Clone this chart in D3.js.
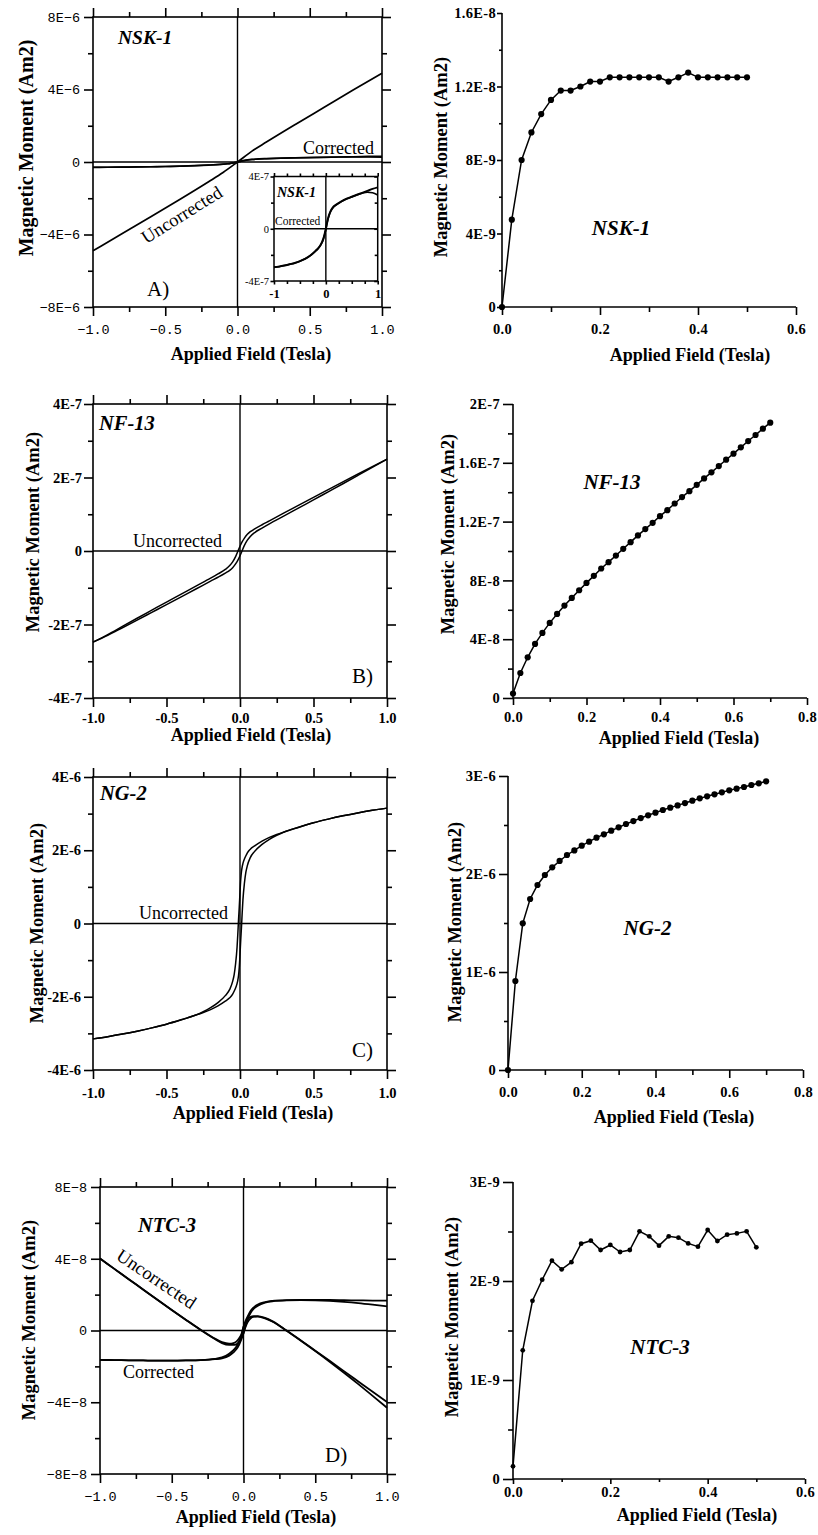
<!DOCTYPE html>
<html><head><meta charset="utf-8">
<script src="https://cdn.jsdelivr.net/npm/d3@7"></script>
<style>body{margin:0;background:#fff} svg{display:block}</style>
</head><body>
<svg id="fig" width="818" height="1535"></svg>
<script>
// ================= DATA =================
// Panel A (NSK-1) hysteresis loop, corrected (units 1E-7 Am2)
const nskX = [-1,-0.9,-0.8,-0.7,-0.6,-0.5,-0.4,-0.3,-0.2,-0.15,-0.1,-0.07,-0.05,-0.03,-0.015,0,0.015,0.03,0.05,0.07,0.1,0.15,0.2,0.3,0.4,0.5,0.6,0.7,0.8,0.9,1];
const nskCorrUp = [-2.95,-2.9,-2.82,-2.72,-2.62,-2.48,-2.3,-2.05,-1.7,-1.5,-1.22,-0.98,-0.78,-0.5,-0.25,0,0.3,0.59,0.9,1.15,1.42,1.7,1.85,2.1,2.3,2.45,2.6,2.75,2.9,3.05,3.17];
const nskCorrLo = [-2.95,-2.9,-2.82,-2.72,-2.62,-2.48,-2.3,-2.05,-1.72,-1.53,-1.26,-1.03,-0.84,-0.56,-0.32,-0.06,0.24,0.53,0.85,1.1,1.38,1.67,1.83,2.08,2.28,2.43,2.58,2.72,2.8,2.75,2.58];
// Panel A uncorrected (units 1E-7 Am2)
const nskUncX = [-1,-0.8,-0.6,-0.4,-0.2,-0.1,0,0.1,0.2,0.4,0.6,0.8,1];
const nskUnc = [-49,-39.6,-30.2,-20.7,-10.9,-5.8,0,6.0,11.0,20.7,30.2,39.7,49];
// Panel B (NF-13) uncorrected loop (units 1E-7 Am2)
const nfX = [-1,-0.9,-0.8,-0.7,-0.6,-0.5,-0.4,-0.3,-0.2,-0.15,-0.1,-0.07,-0.05,-0.03,-0.015,0,0.015,0.03,0.05,0.07,0.1,0.15,0.2,0.3,0.4,0.5,0.6,0.7,0.8,0.9,1];
const nfUp = [-2.48,-2.275,-2.052,-1.83,-1.61,-1.39,-1.173,-0.955,-0.74,-0.625,-0.502,-0.395,-0.294,-0.152,-0.014,0.13,0.254,0.352,0.454,0.525,0.602,0.715,0.82,1.035,1.247,1.46,1.67,1.88,2.088,2.295,2.5];
const nfLo = [-2.48,-2.295,-2.088,-1.88,-1.67,-1.46,-1.247,-1.035,-0.82,-0.715,-0.602,-0.525,-0.454,-0.352,-0.254,-0.13,0.014,0.152,0.294,0.395,0.502,0.625,0.74,0.955,1.173,1.39,1.61,1.83,2.052,2.275,2.5];
// Panel C (NG-2) uncorrected loop (units 1E-6 Am2)
const ngX = [-1,-0.9,-0.8,-0.7,-0.6,-0.5,-0.4,-0.3,-0.25,-0.2,-0.15,-0.1,-0.07,-0.05,-0.04,-0.03,-0.02,-0.015,-0.01,-0.005,0,0.005,0.01,0.015,0.02,0.03,0.04,0.05,0.07,0.1,0.15,0.2,0.25,0.3,0.4,0.5,0.6,0.7,0.8,0.9,1];
const ngDesc = [-3.15,-3.09,-3.02,-2.94,-2.85,-2.75,-2.63,-2.5,-2.41,-2.3,-2.16,-1.97,-1.8,-1.58,-1.4,-1.1,-0.65,-0.3,0.1,0.45,0.85,1.2,1.42,1.55,1.64,1.76,1.85,1.93,2.03,2.12,2.25,2.35,2.43,2.5,2.63,2.75,2.85,2.94,3.02,3.09,3.15];
const ngAsc = [-3.15,-3.09,-3.02,-2.94,-2.85,-2.75,-2.63,-2.5,-2.43,-2.35,-2.25,-2.12,-2.03,-1.93,-1.85,-1.76,-1.64,-1.55,-1.42,-1.2,-0.85,-0.45,-0.1,0.3,0.65,1.1,1.4,1.58,1.8,1.97,2.16,2.3,2.41,2.5,2.63,2.75,2.85,2.94,3.02,3.09,3.15];
// Panel D (NTC-3) loops (units 1E-8 Am2)
const ntcX = [-1,-0.9,-0.8,-0.7,-0.6,-0.5,-0.4,-0.3,-0.2,-0.15,-0.1,-0.07,-0.05,-0.03,-0.015,0,0.015,0.03,0.05,0.07,0.1,0.15,0.2,0.3,0.4,0.5,0.6,0.7,0.8,0.9,1];
const ntcCorrUp = [-1.64,-1.65,-1.66,-1.67,-1.68,-1.68,-1.67,-1.65,-1.58,-1.5,-1.3,-1.1,-0.9,-0.6,-0.3,0.2,0.55,0.8,1.1,1.28,1.45,1.58,1.65,1.69,1.7,1.7,1.7,1.69,1.68,1.67,1.67];
const ntcCorrLo = [-1.64,-1.65,-1.66,-1.67,-1.68,-1.68,-1.67,-1.65,-1.6,-1.55,-1.4,-1.22,-1.05,-0.78,-0.5,-0.15,0.3,0.65,0.98,1.2,1.38,1.55,1.63,1.68,1.69,1.68,1.65,1.6,1.53,1.44,1.34];
const ntcUncUp = [4.01,3.435,2.86,2.285,1.71,1.145,0.59,0.045,-0.45,-0.65,-0.735,-0.705,-0.62,-0.43,-0.215,0.2,0.465,0.63,0.76,0.8,0.8,0.7,0.52,-0.005,-0.56,-1.125,-1.69,-2.265,-2.84,-3.415,-3.98];
const ntcUncLo = [4.01,3.435,2.86,2.285,1.71,1.145,0.59,0.045,-0.47,-0.7,-0.8,-0.8,-0.77,-0.61,-0.415,-0.15,0.215,0.48,0.68,0.76,0.77,0.68,0.5,-0.015,-0.57,-1.145,-1.74,-2.355,-2.99,-3.645,-4.31];

// Right-hand panels: IRM acquisition points
const irmX50 = [0,0.02,0.04,0.06,0.08,0.1,0.12,0.14,0.16,0.18,0.2,0.22,0.24,0.26,0.28,0.3,0.32,0.34,0.36,0.38,0.4,0.42,0.44,0.46,0.48,0.5];
const irmX70 = [0,0.02,0.04,0.06,0.08,0.1,0.12,0.14,0.16,0.18,0.2,0.22,0.24,0.26,0.28,0.3,0.32,0.34,0.36,0.38,0.4,0.42,0.44,0.46,0.48,0.5,0.52,0.54,0.56,0.58,0.6,0.62,0.64,0.66,0.68,0.7];
const nskIrm = [0,4.75,8.0,9.5,10.5,11.27,11.78,11.78,12.0,12.27,12.27,12.5,12.5,12.5,12.5,12.5,12.5,12.27,12.5,12.76,12.5,12.5,12.5,12.5,12.5,12.5]; // 1E-9
const nfIrm = [0.3,1.70,2.77,3.68,4.43,5.11,5.72,6.29,6.81,7.33,7.83,8.31,8.81,9.24,9.69,10.15,10.6,11.06,11.49,11.92,12.37,12.78,13.23,13.67,14.07,14.5,14.94,15.35,15.78,16.21,16.62,17.05,17.48,17.89,18.32,18.73]; // 1E-8
const ngIrm = [0,0.908,1.497,1.745,1.888,1.99,2.068,2.133,2.194,2.241,2.289,2.33,2.371,2.405,2.442,2.476,2.51,2.54,2.571,2.599,2.626,2.653,2.677,2.70,2.724,2.748,2.772,2.793,2.813,2.833,2.854,2.871,2.888,2.908,2.925,2.946]; // 1E-6
const ntcIrm = [0.128,1.30,1.80,2.013,2.205,2.118,2.19,2.377,2.407,2.313,2.364,2.293,2.313,2.502,2.451,2.357,2.451,2.438,2.38,2.347,2.515,2.404,2.468,2.481,2.502,2.34]; // 1E-9

// Tick values & labels
const loopXMajor = [-1,-0.5,0,0.5,1];
const loopXMinor = [-0.75,-0.25,0.25,0.75];
const loopXLabelsMono = ["\u22121.0","\u22120.5","0.0","0.5","1.0"];
const loopXLabelsBold = ["-1.0","-0.5","0.0","0.5","1.0"];
const aYMajor = [80,40,0,-40,-80], aYMinor = [60,20,-20,-60];
const aYLabels = ["8E\u22126","4E\u22126","0","\u22124E\u22126","\u22128E\u22126"];
const insetYMajor = [4,0,-4], insetYMinor = [2,-2];
const insetYLabels = ["4E-7","0","-4E-7"];
const insetXMajor = [-1,0,1], insetXMinor = [-0.75,-0.5,-0.25,0.25,0.5,0.75];
const insetXLabels = ["-1","0","1"];
const bYMajor = [4,2,0,-2,-4], bYMinor = [3,1,-1,-3];
const bYLabels = ["4E-7","2E-7","0","-2E-7","-4E-7"];
const cYMajor = [4,2,0,-2,-4], cYMinor = [3,1,-1,-3];
const cYLabels = ["4E-6","2E-6","0","-2E-6","-4E-6"];
const dYMajor = [8,4,0,-4,-8], dYMinor = [6,2,-2,-6];
const dYLabels = ["8E\u22128","4E\u22128","0","\u22124E\u22128","\u22128E\u22128"];

const r1YMajor = [0,4,8,12,16], r1YMinor = [2,6,10,14];
const r1YLabels = ["0","4E-9","8E-9","1.2E-8","1.6E-8"];
const r6XMajor = [0,0.2,0.4,0.6], r6XMinor = [0.1,0.3,0.5];
const r6XLabels = ["0.0","0.2","0.4","0.6"];
const r8XMajor = [0,0.2,0.4,0.6,0.8], r8XMinor = [0.1,0.3,0.5,0.7];
const r8XLabels = ["0.0","0.2","0.4","0.6","0.8"];
const r2YMajor = [0,4,8,12,16,20], r2YMinor = [2,6,10,14,18];
const r2YLabels = ["0","4E-8","8E-8","1.2E-7","1.6E-7","2E-7"];
const r3YMajor = [0,1,2,3], r3YMinor = [0.5,1.5,2.5];
const r3YLabels = ["0","1E-6","2E-6","3E-6"];
const r4YMajor = [0,1,2,3], r4YMinor = [0.5,1.5,2.5];
const r4YLabels = ["0","1E-9","2E-9","3E-9"];

// ================= DRAWING =================
const SERIF = "'Liberation Serif','Times New Roman',serif";
const MONO = "'Liberation Mono','DejaVu Sans Mono',monospace";
const svg = d3.select("#fig");

function ticks(g, axisFn, scale, vals, size, pad, labels, tx, ty, font) {
  const ax = axisFn(scale).tickValues(vals).tickSize(size).tickSizeOuter(0).tickPadding(pad)
    .tickFormat((d, i) => labels ? labels[i] : "");
  const a = g.append("g").attr("transform", `translate(${tx},${ty})`).call(ax);
  a.select(".domain").remove();
  a.selectAll("line").attr("stroke", "#000").attr("stroke-width", 1.6);
  if (font) {
    a.attr("font-family", font.family).attr("font-size", font.size).attr("font-weight", font.weight || "normal");
    if (font.ls) a.attr("letter-spacing", font.ls);
  }
  return a;
}

function txt(g, x, y, s, o) {
  o = o || {};
  const t = g.append("text").attr("x", x).attr("y", y).text(s)
    .attr("font-family", o.family || SERIF).attr("font-size", o.size || 18)
    .attr("font-weight", o.weight || "normal").attr("font-style", o.style || "normal")
    .attr("text-anchor", o.anchor || "start").attr("fill", "#000");
  if (o.rotate !== undefined) t.attr("transform", `rotate(${o.rotate},${x},${y})`);
  return t;
}

function loopPanel(c) {
  const g = svg.append("g");
  const x = d3.scaleLinear().domain([-1, 1]).range([c.x0, c.x1]);
  const y = d3.scaleLinear().domain([-c.ymax, c.ymax]).range([c.y1, c.y0]);
  if (c.bg) g.append("rect").attr("x", c.x0).attr("y", c.y0).attr("width", c.x1 - c.x0).attr("height", c.y1 - c.y0).attr("fill", "#fff");
  ticks(g, d3.axisLeft, y, c.yMajor, c.tM, c.yPad, c.yLabels, c.x0, 0, c.yfont);
  ticks(g, d3.axisLeft, y, c.yMinor, c.tm, 0, null, c.x0, 0);
  ticks(g, d3.axisRight, y, c.yMajor, c.rM, 0, null, c.x1, 0);
  ticks(g, d3.axisRight, y, c.yMinor, c.rm, 0, null, c.x1, 0);
  ticks(g, d3.axisTop, x, c.xMajor, c.tM, 0, null, 0, c.y0);
  ticks(g, d3.axisTop, x, c.xMinor, c.tm, 0, null, 0, c.y0);
  ticks(g, d3.axisBottom, x, c.xMajor, c.tM, c.xPad, c.xLabels, 0, c.y1, c.xfont);
  ticks(g, d3.axisBottom, x, c.xMinor, c.tm, 0, null, 0, c.y1);
  g.append("rect").attr("x", c.x0).attr("y", c.y0).attr("width", c.x1 - c.x0).attr("height", c.y1 - c.y0)
    .attr("fill", "none").attr("stroke", "#000").attr("stroke-width", c.frameW || 1.6);
  g.append("line").attr("x1", c.x0).attr("x2", c.x1).attr("y1", y(0)).attr("y2", y(0)).attr("stroke", "#000").attr("stroke-width", 1.4);
  g.append("line").attr("x1", x(0)).attr("x2", x(0)).attr("y1", c.y0).attr("y2", c.y1).attr("stroke", "#000").attr("stroke-width", 1.4);
  const line = d3.line().x(d => x(d[0])).y(d => y(d[1])).curve(d3.curveMonotoneX);
  c.curves.forEach(cv => g.append("path").attr("d", line(d3.zip(cv.x, cv.y)))
    .attr("fill", "none").attr("stroke", "#000").attr("stroke-width", cv.w || 1.6).attr("stroke-linejoin", "round"));
  return { g, x, y };
}

function ptsPanel(c) {
  const g = svg.append("g");
  const x = d3.scaleLinear().domain([0, c.xmax]).range([c.x0, c.x1]);
  const y = d3.scaleLinear().domain([0, c.ymax]).range([c.y1, c.y0]);
  const bold = { family: SERIF, size: 14.5, weight: "bold", ls: 0.3 };
  ticks(g, d3.axisLeft, y, c.yMajor, c.yM, c.yPad, c.yLabels, c.x0, 0, bold);
  ticks(g, d3.axisLeft, y, c.yMinor, c.ym, 0, null, c.x0, 0);
  ticks(g, d3.axisBottom, x, c.xMajor, c.xM, c.xPad, c.xLabels, 0, c.y1, bold);
  ticks(g, d3.axisBottom, x, c.xMinor, c.xm, 0, null, 0, c.y1);
  g.append("line").attr("x1", c.x0).attr("x2", c.x0).attr("y1", c.y0).attr("y2", c.y1).attr("stroke", "#000").attr("stroke-width", 1.6);
  g.append("line").attr("x1", c.x0).attr("x2", c.x1).attr("y1", c.y1).attr("y2", c.y1).attr("stroke", "#000").attr("stroke-width", 1.6);
  const pts = d3.zip(c.xs, c.ys);
  const line = d3.line().x(d => x(d[0])).y(d => y(d[1]));
  g.append("path").attr("d", line(pts)).attr("fill", "none").attr("stroke", "#000").attr("stroke-width", 1.5);
  g.selectAll("circle.p").data(pts).enter().append("circle").attr("class", "p")
    .attr("cx", d => x(d[0])).attr("cy", d => y(d[1])).attr("r", c.r).attr("fill", "#000");
  txt(g, c.lx, c.ly, c.label, { size: 21, weight: "bold", style: "italic", anchor: "middle" });
  txt(g, c.tx, c.ty, "Applied Field (Tesla)", { size: 18, weight: "bold", anchor: "middle" });
  txt(g, c.yx, c.yy, "Magnetic Moment (Am2)", { size: 18.5, weight: "bold", anchor: "middle", rotate: -90 });
  return g;
}

const monoF = { family: MONO, size: 13.5, weight: "normal" };
const boldF = { family: SERIF, size: 14.5, weight: "bold" };

// ---- Panel A ----
const A = loopPanel({
  x0: 93, x1: 382, y0: 17, y1: 307, ymax: 80,
  yMajor: aYMajor, yMinor: aYMinor, yLabels: aYLabels, xMajor: loopXMajor, xMinor: loopXMinor, xLabels: loopXLabelsMono,
  tM: 9, tm: 5, rM: 9, rm: 5, yPad: 4, xPad: 8, yfont: monoF, xfont: monoF,
  curves: [{ x: nskUncX, y: nskUnc, w: 1.7 }, { x: nskX, y: nskCorrUp, w: 1.7 }, { x: nskX, y: nskCorrLo, w: 1.5 }]
});
txt(A.g, 118, 44, "NSK-1", { size: 19.5, weight: "bold", style: "italic" });
txt(A.g, 303, 154, "Corrected", { size: 18 });
txt(A.g, 185, 220, "Uncorrected", { size: 18.5, anchor: "middle", rotate: -32 });
txt(A.g, 147, 296, "A)", { size: 21 });
txt(A.g, 251, 360, "Applied Field (Tesla)", { size: 18, weight: "bold", anchor: "middle" });
txt(A.g, 33, 148, "Magnetic Moment (Am2)", { size: 20, weight: "bold", anchor: "middle", rotate: -90 });

// inset
const I = loopPanel({
  x0: 274, x1: 377.7, y0: 176.5, y1: 281, ymax: 4, bg: true,
  yMajor: insetYMajor, yMinor: insetYMinor, yLabels: insetYLabels, xMajor: insetXMajor, xMinor: insetXMinor, xLabels: insetXLabels,
  tM: 3.5, tm: 3, rM: -3.5, rm: -3, yPad: 1.5, xPad: 4.5, frameW: 1.5,
  yfont: { family: SERIF, size: 10.5, weight: "normal" }, xfont: { family: SERIF, size: 12.5, weight: "bold" },
  curves: [{ x: nskX, y: nskCorrUp, w: 2 }, { x: nskX, y: nskCorrLo, w: 1.6 }]
});
txt(I.g, 277, 196.5, "NSK-1", { size: 14, weight: "bold", style: "italic" });
txt(I.g, 275, 225, "Corrected", { size: 11.5 });

// ---- Panel B ----
const B = loopPanel({
  x0: 93, x1: 387, y0: 404, y1: 698, ymax: 4,
  yMajor: bYMajor, yMinor: bYMinor, yLabels: bYLabels, xMajor: loopXMajor, xMinor: loopXMinor, xLabels: loopXLabelsBold,
  tM: 9, tm: 5, rM: 9, rm: 5, yPad: 2, xPad: 6, yfont: boldF, xfont: boldF,
  curves: [{ x: nfX, y: nfUp, w: 1.5 }, { x: nfX, y: nfLo, w: 1.5 }]
});
txt(B.g, 99, 430, "NF-13", { size: 20.5, weight: "bold", style: "italic" });
txt(B.g, 133, 547, "Uncorrected", { size: 18 });
txt(B.g, 352, 683, "B)", { size: 21 });
txt(B.g, 251, 741, "Applied Field (Tesla)", { size: 18, weight: "bold", anchor: "middle" });
txt(B.g, 39, 532, "Magnetic Moment (Am2)", { size: 18.5, weight: "bold", anchor: "middle", rotate: -90 });

// ---- Panel C ----
const C = loopPanel({
  x0: 93, x1: 387, y0: 777, y1: 1070, ymax: 4,
  yMajor: cYMajor, yMinor: cYMinor, yLabels: cYLabels, xMajor: loopXMajor, xMinor: loopXMinor, xLabels: loopXLabelsBold,
  tM: 9, tm: 5, rM: 9, rm: 5, yPad: 3, xPad: 9, yfont: boldF, xfont: boldF,
  curves: [{ x: ngX, y: ngDesc, w: 1.5 }, { x: ngX, y: ngAsc, w: 1.5 }]
});
txt(C.g, 100, 800, "NG-2", { size: 20.5, weight: "bold", style: "italic" });
txt(C.g, 139, 919, "Uncorrected", { size: 18 });
txt(C.g, 352, 1057, "C)", { size: 21 });
txt(C.g, 253, 1119, "Applied Field (Tesla)", { size: 18, weight: "bold", anchor: "middle" });
txt(C.g, 43, 923, "Magnetic Moment (Am2)", { size: 18.5, weight: "bold", anchor: "middle", rotate: -90 });

// ---- Panel D ----
const D = loopPanel({
  x0: 100, x1: 387, y0: 1187, y1: 1474, ymax: 8,
  yMajor: dYMajor, yMinor: dYMinor, yLabels: dYLabels, xMajor: loopXMajor, xMinor: loopXMinor, xLabels: loopXLabelsMono,
  tM: 9, tm: 5, rM: 9, rm: 5, yPad: 4, xPad: 8, yfont: monoF, xfont: monoF,
  curves: [{ x: ntcX, y: ntcUncUp, w: 1.8 }, { x: ntcX, y: ntcUncLo, w: 1.8 }, { x: ntcX, y: ntcCorrUp, w: 1.8 }, { x: ntcX, y: ntcCorrLo, w: 1.8 }]
});
txt(D.g, 138, 1231.5, "NTC-3", { size: 20.5, weight: "bold", style: "italic" });
txt(D.g, 153, 1284, "Uncorrected", { size: 18.5, anchor: "middle", rotate: 34 });
txt(D.g, 123, 1378, "Corrected", { size: 18 });
txt(D.g, 325, 1462, "D)", { size: 21 });
txt(D.g, 256, 1523, "Applied Field (Tesla)", { size: 18, weight: "bold", anchor: "middle" });
txt(D.g, 35, 1320, "Magnetic Moment (Am2)", { size: 18.5, weight: "bold", anchor: "middle", rotate: -90 });

// ---- Right panels ----
ptsPanel({ x0: 502, x1: 796, y0: 13, y1: 307, xmax: 0.6, ymax: 16,
  yMajor: r1YMajor, yMinor: r1YMinor, yLabels: r1YLabels, xMajor: r6XMajor, xMinor: r6XMinor, xLabels: r6XLabels,
  yM: 5, ym: 3, yPad: 1, xM: 8, xm: 5, xPad: 9, xs: irmX50, ys: nskIrm, r: 3.1,
  label: "NSK-1", lx: 621, ly: 235, tx: 690, ty: 361, yx: 447, yy: 157 });
ptsPanel({ x0: 513, x1: 807, y0: 404, y1: 698, xmax: 0.8, ymax: 20,
  yMajor: r2YMajor, yMinor: r2YMinor, yLabels: r2YLabels, xMajor: r8XMajor, xMinor: r8XMinor, xLabels: r8XLabels,
  yM: 10, ym: 5, yPad: 3, xM: 7, xm: 4, xPad: 7, xs: irmX70, ys: nfIrm, r: 3.1,
  label: "NF-13", lx: 612, ly: 489, tx: 679, ty: 744, yx: 454, yy: 534 });
ptsPanel({ x0: 508, x1: 803, y0: 776, y1: 1070, xmax: 0.8, ymax: 3,
  yMajor: r3YMajor, yMinor: r3YMinor, yLabels: r3YLabels, xMajor: r8XMajor, xMinor: r8XMinor, xLabels: r8XLabels,
  yM: 9, ym: 4, yPad: 3, xM: 8, xm: 5, xPad: 9, xs: irmX70, ys: ngIrm, r: 3.1,
  label: "NG-2", lx: 647.5, ly: 935, tx: 674, ty: 1123, yx: 461, yy: 922 });
ptsPanel({ x0: 513, x1: 805, y0: 1182, y1: 1479, xmax: 0.6, ymax: 3,
  yMajor: r4YMajor, yMinor: r4YMinor, yLabels: r4YLabels, xMajor: r6XMajor, xMinor: r6XMinor, xLabels: r6XLabels,
  yM: 10, ym: 5, yPad: 3, xM: 5, xm: 3, xPad: 3, xs: irmX50, ys: ntcIrm, r: 2.4,
  label: "NTC-3", lx: 660, ly: 1354, tx: 697, ty: 1521, yx: 458, yy: 1317 });
</script>
</body></html>
